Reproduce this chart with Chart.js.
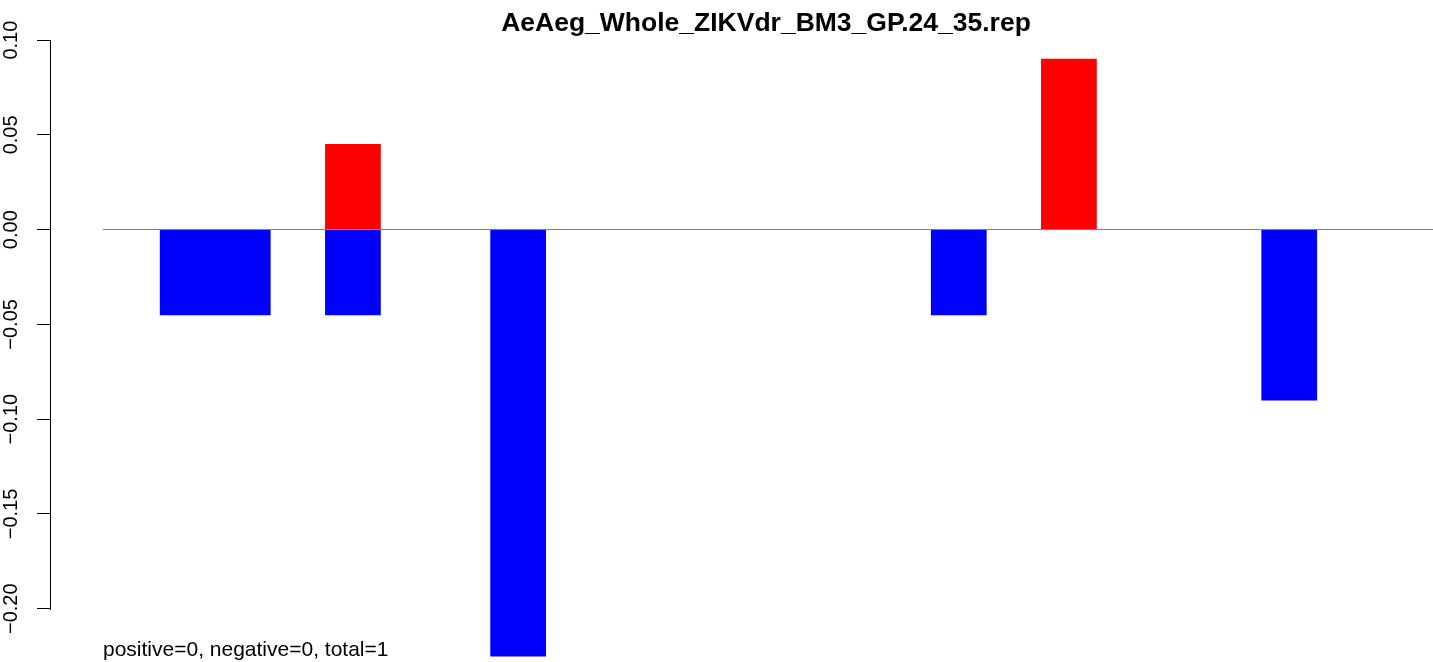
<!DOCTYPE html>
<html>
<head>
<meta charset="utf-8">
<title>AeAeg_Whole_ZIKVdr_BM3_GP.24_35.rep</title>
<script src="https://cdn.jsdelivr.net/npm/chart.js@4.4.1/dist/chart.umd.min.js"></script>
<style>
    html, body { margin: 0; padding: 0; background: #fff; overflow: hidden; }
    canvas { display: block; }
</style>
</head>
<body>
<canvas id="repChart" width="1482" height="700"></canvas>
<script>
// bar slots (R barplot, space = 0)
const slots = ['1', '2', '3', '4', '5', '6', '7', '8', '9', '10', '11', '12', '13',
               '14', '15', '16', '17', '18', '19', '20', '21', '22', '23', '24', '25', '26'];

// red (positive) and blue (negative) values per slot
const upValues = [null, null, null, null, null, 0.045, null, null, null, null, null, null, null,
                  null, null, null, null, null, 0.09, null, null, null, null, null, null, null];
const downValues = [null, null, -0.045, -0.045, null, -0.045, null, null, -0.225, null, null, null, null,
                    null, null, null, -0.045, null, null, null, null, null, -0.09, null, null, null];

// y axis
const yTicks = [0.10, 0.05, 0.00, -0.05, -0.10, -0.15, -0.20];
const yMin = -0.2376;
const yMax = 0.1026;

const chartTitle = 'AeAeg_Whole_ZIKVdr_BM3_GP.24_35.rep';
const statsText = 'positive=0, negative=0, total=1';

const fontFamily = '"Liberation Sans", Arial, Helvetica, sans-serif';
Chart.defaults.font.family = fontFamily;
Chart.defaults.color = '#000';

// zero line, short axis line and the stats note
const extras = {
    id: 'extras',
    afterDatasetsDraw(chart) {
        const { ctx, chartArea, scales } = chart;
        const y = scales.y;
        ctx.save();
        ctx.lineWidth = 1;

        const y0 = Math.floor(y.getPixelForValue(0)) + 0.5;
        ctx.strokeStyle = '#808080';
        ctx.beginPath();
        ctx.moveTo(chartArea.left + 53, y0);
        ctx.lineTo(chartArea.right, y0);
        ctx.stroke();

        const ax = Math.round(chartArea.left) + 0.5;
        ctx.strokeStyle = '#000';
        ctx.beginPath();
        ctx.moveTo(ax, Math.round(y.getPixelForValue(yTicks[0])));
        ctx.lineTo(ax, Math.round(y.getPixelForValue(yTicks[yTicks.length - 1])) + 1);
        ctx.stroke();

        ctx.fillStyle = '#000';
        ctx.font = '21px ' + fontFamily;
        ctx.textAlign = 'left';
        ctx.textBaseline = 'alphabetic';
        ctx.fillText(statsText, chartArea.left + 53, 656);
        ctx.restore();
    }
};

const repChart = new Chart(document.getElementById('repChart'), {
    type: 'bar',
    data: {
        labels: slots,
        datasets: [{
            data: upValues,
            backgroundColor: '#FF0000',
            borderWidth: 0
        }, {
            data: downValues,
            backgroundColor: '#0000FF',
            borderWidth: 0
        }]
    },
    options: {
        responsive: false,
        animation: false,
        categoryPercentage: 1,
        barPercentage: 1,
        layout: { padding: { left: 0, right: 0, top: 0, bottom: 20 } },
        plugins: {
            legend: { display: false },
            tooltip: { enabled: false },
            title: {
                display: true,
                text: chartTitle,
                fullSize: false,
                color: '#000',
                font: { size: 26.5, weight: 'bold', lineHeight: 0.8 },
                padding: { top: 13, bottom: 1 }
            }
        },
        scales: {
            x: {
                display: false,
                stacked: true
            },
            y: {
                min: yMin,
                max: yMax,
                afterBuildTicks: (scale) => {
                    scale.ticks = yTicks.map(v => ({ value: v }));
                },
                afterFit: (scale) => {
                    scale.width = 50;
                    scale.paddingTop = 0;
                    scale.paddingBottom = 0;
                },
                border: { display: false },
                grid: {
                    drawOnChartArea: false,
                    drawTicks: true,
                    tickLength: 13,
                    color: '#000',
                    lineWidth: 1
                },
                ticks: {
                    minRotation: 90,
                    maxRotation: 90,
                    crossAlign: 'center',
                    padding: 0,
                    color: '#000',
                    font: { size: 20 },
                    callback: (v) => (v < 0 ? '\u2212' : '') + Math.abs(v).toFixed(2)
                }
            }
        }
    },
    plugins: [extras]
});
</script>
</body>
</html>
